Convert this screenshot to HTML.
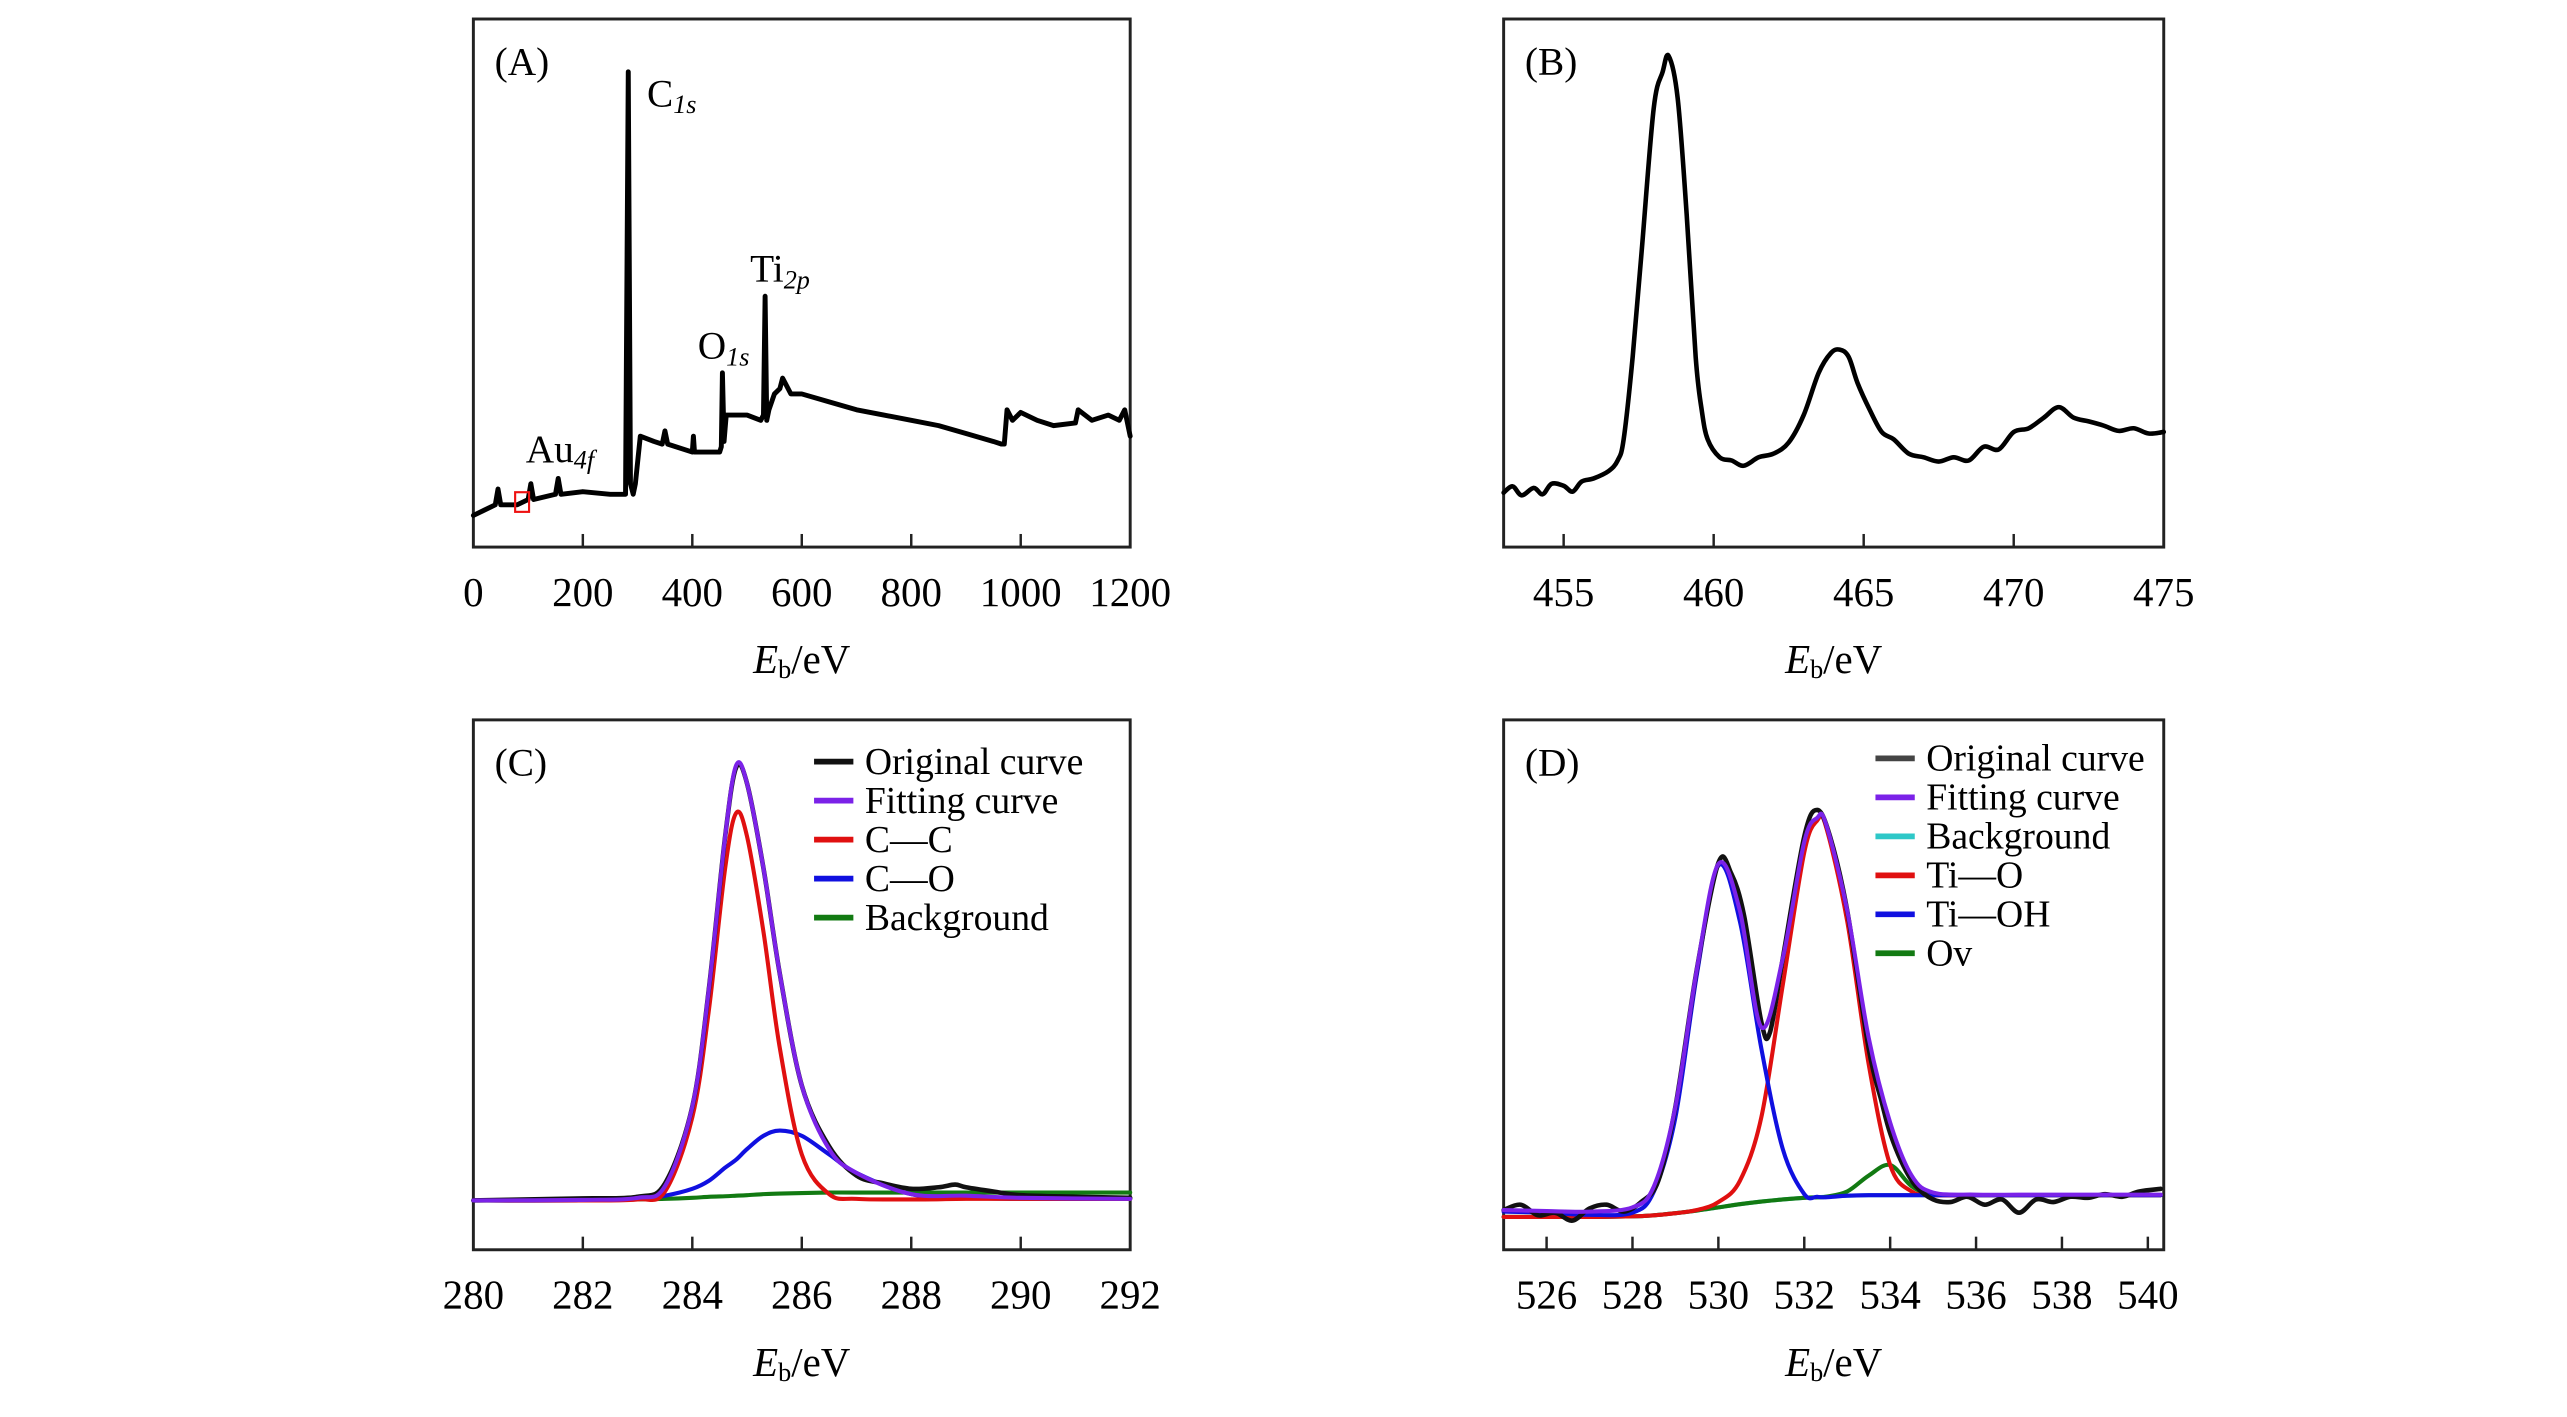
<!DOCTYPE html>
<html><head><meta charset="utf-8">
<style>
html,body{margin:0;padding:0;background:#fff;}
svg{display:block;}
text{font-family:"Liberation Serif",serif;fill:#000;}
</style></head>
<body>
<svg id="fig" width="2567" height="1417" viewBox="0 0 1567.2 865.1" preserveAspectRatio="none" xmlns="http://www.w3.org/2000/svg"></svg>
<script>
// ---------- Panel A: survey ----------
const aX = [0,20,40,45,50,80,100,105,110,150,155,160,200,250,278,283,287,292,296,305,330,345,350,355,400,402,404,450,453,455,458,462,470,500,525,530,533,536,540,550,560,565,580,600,650,700,750,800,850,900,950,965,970,975,985,1000,1030,1060,1100,1105,1130,1160,1180,1190,1200];
const aY = [6,7,8,11,8,8,9,12,9,10,13,10,10.5,10,10,90,12,10,12,21,20,19.5,22,19.5,18,21,18,18,19,33,20,25,25,25,24,25,47.5,24,26,29,30,32,29,29,27.5,26,25,24,23,21.5,20,19.5,19.5,26,24,25.5,24,23,23.5,26,24,25,24,26,21];
const aTicks = [0,200,400,600,800,1000,1200];
// ---------- Panel B: Ti 2p ----------
const bX = [453,453.3,453.6,454,454.3,454.6,455,455.3,455.6,456,456.5,456.8,457,457.3,457.6,458,458.3,458.5,458.8,459.1,459.4,459.6,459.8,460.2,460.6,461,461.5,462,462.5,463,463.5,463.9,464.2,464.5,464.8,465.2,465.6,466,466.5,467,467.5,468,468.5,469,469.5,470,470.5,471,471.5,472,472.5,473,473.5,474,474.5,475];
const bY = [10.3,11.5,9.8,11.2,10,12,11.6,10.5,12.4,13,14.4,16.4,20.4,36,56,83,90,93,85,63,36,26,20.4,17,16.4,15.4,17,17.7,19.8,25,33,36.7,37.4,36,31,26,21.8,20.4,17.7,17,16.2,17,16.4,19,18.5,21.8,22.5,24.5,26.5,24.5,23.8,23,22,22.5,21.5,21.8];
const bTicks = [455,460,465,470,475];
// ---------- Panel C: C 1s ----------
const cX = [280,282,283,283.5,284,284.3,284.6,284.8,285,285.3,285.6,286,286.5,287,288,289,290,292];
const cFit  = [9.3,9.4,9.8,12,27,49,78,91.4,88,72,52,31,19,14.5,10.5,10.2,9.8,9.6];
const cCC   = [9.3,9.3,9.5,11,25,45,72,82.4,78,60,38,18,10.5,9.6,9.5,9.6,9.6,9.6];
const cCO   = [9.3,9.3,9.6,10.2,11.5,13,15.5,17,19,21.5,22.5,21.5,18,14.5,10.5,9.8,9.6,9.6];
const cBg   = [9.3,9.3,9.5,9.6,9.8,10,10.1,10.2,10.3,10.5,10.6,10.7,10.8,10.8,10.8,10.8,10.8,10.8];
const cOrigX = [280,281,282,283,283.5,284,284.3,284.6,284.8,285,285.3,285.6,286,286.5,287,287.5,288,288.5,288.8,289,289.5,290,291,292];
const cOrig  = [9.3,9.5,9.7,10,12.5,27,49,78,91,88,72,52,31,19.5,14,12.5,11.5,11.8,12.3,11.8,11,10.3,10,9.8];
const cTicks = [280,282,284,286,288,290,292];
// ---------- Panel D: O 1s ----------
const dX = [525,526,527,528,528.5,529,529.5,530,530.5,531,531.5,532,532.3,532.5,533,533.5,534,534.5,535,536,537,538,539,540.3];
const dFit  = [7.5,7.3,7.2,8,12,27,53,72.8,64,42,55,77,81.5,80.5,64,40,24,14,10.8,10.4,10.4,10.4,10.4,10.4];
const dBg   = [6.2,6.2,6.2,6.3,6.5,6.9,7.4,8,8.6,9.1,9.5,9.8,9.9,10,10.2,10.3,10.3,10.3,10.3,10.3,10.3,10.3,10.3,10.3];
const dTiO  = [6.2,6.2,6.2,6.3,6.5,6.9,7.5,9,13,25,50,75,81,80,62,35,16,11,10.3,10.3,10.3,10.3,10.3,10.3];
const dTiOH = [7.2,7.0,6.6,7,11,25,52,72.5,62,38,19,10.5,10,9.9,10.2,10.3,10.3,10.3,10.3,10.3,10.3,10.3,10.3,10.3];
const dOv   = [6.2,6.2,6.2,6.3,6.5,6.9,7.4,8,8.6,9.1,9.5,9.8,9.9,10,11,14,16,12,10.4,10.3,10.3,10.3,10.3,10.3];
const dOrigX = [525,525.4,525.8,526.2,526.6,527,527.4,527.8,528.2,528.6,529,529.5,530,530.3,530.6,531,531.2,531.5,532,532.3,532.6,533,533.5,533.8,534,534.3,534.6,535,535.4,535.8,536.2,536.6,537,537.4,537.8,538.2,538.6,539,539.4,539.8,540.3];
const dOrig  = [7.5,8.5,6.5,7,5.5,7.8,8.5,7.2,9,13,27,53,73,71,63,43,41,55,78,83,78,64,38,28,22,16,12,9.5,9,10,8.5,9.5,7,9.5,9,10,9.8,10.5,10,11,11.5];
const dTicks = [526,528,530,532,534,536,538,540];

const NS="http://www.w3.org/2000/svg";
const svg=document.getElementById('fig');
function mk(tag,attrs,parent){const e=document.createElementNS(NS,tag);for(const k in attrs)e.setAttribute(k,attrs[k]);(parent||svg).appendChild(e);return e;}

function panel(id,L,T,R,B,xmin,xmax,ticks,letter){
  const g=mk('g',{});
  
  
  const sx=v=>L+(v-xmin)/(xmax-xmin)*(R-L);
  const sy=v=>B-v/100*(B-T);
  const frame=mk('rect',{x:L,y:T,width:R-L,height:B-T,fill:'none',stroke:'#222','stroke-width':1.8},g);
  
  
  ticks.forEach(t=>{
    const x=sx(t);
    if(x>L+3 && x<R-3){
      const tk=mk('line',{x1:x,x2:x,y1:B,y2:B-8,stroke:'#222','stroke-width':1.5},g);
      
      
    }
    const tl=mk('text',{x:x,y:B+36,'font-size':25,'text-anchor':'middle'},g);
    tl.textContent=t;
    
    
  });
  const xt=mk('text',{x:(L+R)/2,y:B+77,'font-size':25,'text-anchor':'middle'},g);
  xt.innerHTML='<tspan font-style="italic">E</tspan><tspan font-size="16" dy="3">b</tspan><tspan dy="-3">/eV</tspan>';
  
  
  const lt=mk('text',{x:L+13,y:T+34,'font-size':24},g);
  lt.textContent=letter;
  
  
  return {g,sx,sy};
}
function pathD(P,smooth){
  if(!smooth) return 'M'+P.map(p=>p[0].toFixed(2)+','+p[1].toFixed(2)).join(' L');
  let d='M'+P[0][0].toFixed(2)+','+P[0][1].toFixed(2);
  for(let i=0;i<P.length-1;i++){
    const p0=P[Math.max(i-1,0)],p1=P[i],p2=P[i+1],p3=P[Math.min(i+2,P.length-1)];
    const c1=[p1[0]+(p2[0]-p0[0])/6,p1[1]+(p2[1]-p0[1])/6];
    const c2=[p2[0]-(p3[0]-p1[0])/6,p2[1]-(p3[1]-p1[1])/6];
    d+=' C'+c1[0].toFixed(2)+','+c1[1].toFixed(2)+' '+c2[0].toFixed(2)+','+c2[1].toFixed(2)+' '+p2[0].toFixed(2)+','+p2[1].toFixed(2);
  }
  return d;
}
function line(p,xs,ys,color,w,name,smooth){
  const P=xs.map((x,i)=>[p.sx(x),p.sy(ys[i])]);
  const pl=mk('path',{d:pathD(P,smooth),fill:'none',stroke:color,'stroke-width':w,'stroke-linejoin':'round','stroke-linecap':'round'},p.g);
  
  
}
function legend(p,x,y0,dy,items){
  items.forEach((it,i)=>{
    const y=y0+i*dy;
    const l=mk('line',{x1:x,x2:x+24,y1:y,y2:y,stroke:it[1],'stroke-width':3.5},p.g);
    
    
    const t=mk('text',{x:x+31,y:y+7.5,'font-size':23},p.g);
    t.textContent=it[0];
    
    
  });
}
function label(p,x,y,main,sub,name){
  const t=mk('text',{x:x,y:y,'font-size':24},p.g);
  t.innerHTML=main+'<tspan font-size="16" font-style="italic" dy="4">'+sub+'</tspan>';
  
  
}

// Panel A
const pA=panel('a-survey',289,11.6,690,334,0,1200,aTicks,'(A)');
line(pA,aX,aY,'#000',3,'survey-spectrum',false);
const box=mk('rect',{x:314.5,y:300.5,width:8.5,height:12,fill:'none',stroke:'#e11','stroke-width':1.3},pA.g);


label(pA,395,65,'C','1s','c1s-annotation');
label(pA,458,172,'Ti','2p','ti2p-annotation');
label(pA,426,219,'O','1s','o1s-annotation');
label(pA,321,282,'Au','4f','au4f-annotation');

// Panel B
const pB=panel('b-ti2p',918,11.6,1321,334,453,475,bTicks,'(B)');
line(pB,bX,bY,'#000',2.8,'ti2p-spectrum',true);

// Panel C
const pC=panel('c-c1s',289,439.5,690,763,280,292,cTicks,'(C)');
line(pC,cX,cBg,'#127a12',2.5,'background-curve',true);
line(pC,cX,cCO,'#1010e0',2.5,'c-o-curve',true);
line(pC,cX,cCC,'#e01010',2.5,'c-c-curve',true);
line(pC,cOrigX,cOrig,'#111',2.8,'original-curve',true);
line(pC,cX,cFit,'#7b22e8',2.5,'fitting-curve',true);
legend(pC,497,465,23.8,[['Original curve','#111'],['Fitting curve','#7b22e8'],['C—C','#e01010'],['C—O','#1010e0'],['Background','#127a12']]);

// Panel D
const pD=panel('d-o1s',918,439.5,1321,763,525,540.37,dTicks,'(D)');
line(pD,dX,dBg,'#2ec8c8',2.5,'background-curve',true);
line(pD,dX,dOv,'#127a12',2.5,'ov-curve',true);
line(pD,dX,dTiO,'#e01010',2.5,'ti-o-curve',true);
line(pD,dX,dTiOH,'#1010e0',2.5,'ti-oh-curve',true);
line(pD,dOrigX,dOrig,'#111',2.8,'original-curve',true);
line(pD,dX,dFit,'#7b22e8',2.5,'fitting-curve',true);
legend(pD,1145,463,23.8,[['Original curve','#444'],['Fitting curve','#7b22e8'],['Background','#2ec8c8'],['Ti—O','#e01010'],['Ti—OH','#1010e0'],['Ov','#127a12']]);
</script>
</body></html>
